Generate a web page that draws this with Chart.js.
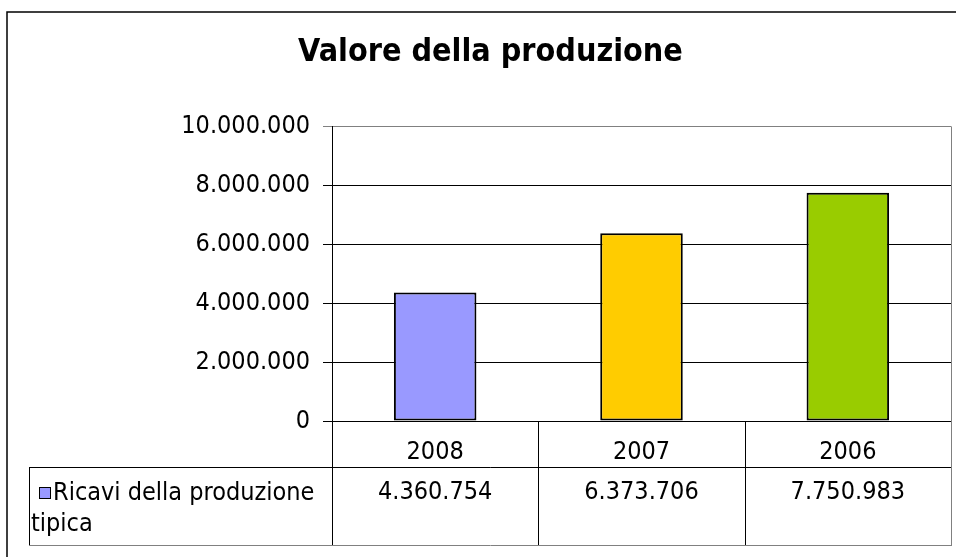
<!DOCTYPE html>
<html>
<head>
<meta charset="utf-8">
<script src="https://cdn.jsdelivr.net/npm/chart.js"></script>
<style>
  html, body { margin: 0; padding: 0; background: #fff; }
  #wrap { width: 956px; height: 557px; }
</style>
</head>
<body>
<div id="wrap"><canvas id="chart"></canvas></div>
<script>
  const years = ["2008", "2007", "2006"];
  const ricavi = [4360754, 6373706, 7750983];
  const barColors = ["#9999ff", "#ffcc00", "#99cc00"];
  const seriesLabel = ["Ricavi della produzione", "tipica"];
  const yTicks = [0, 2000000, 4000000, 6000000, 8000000, 10000000];

  const FONT = '"DejaVu Sans Condensed", "DejaVu Sans", sans-serif';

  function fmt(v) {
    return String(Math.round(v)).replace(/\B(?=(\d{3})+(?!\d))/g, ".");
  }

  // frame, plot border and the data table under the axis
  const tablePlugin = {
    id: "tablePlugin",
    afterDraw(chart) {
      const ctx = chart.ctx;
      const area = chart.chartArea;
      const x = chart.scales.x;
      const half = (area.right - area.left) / years.length / 2;
      const row1 = area.bottom + 46;
      const row2 = row1 + 78;
      const tableLeft = 29;

      ctx.save();
      // outer frame
      ctx.strokeStyle = "#000";
      ctx.lineWidth = 1.5;
      ctx.beginPath();
      ctx.moveTo(7, 557);
      ctx.lineTo(7, 12);
      ctx.lineTo(956, 12);
      ctx.stroke();

      ctx.lineWidth = 1;
      // right plot border
      ctx.strokeStyle = "#808080";
      ctx.beginPath();
      ctx.moveTo(area.right + 0.5, area.top);
      ctx.lineTo(area.right + 0.5, row2);
      ctx.stroke();

      // table lines
      ctx.strokeStyle = "#000";
      ctx.beginPath();
      years.forEach((y, i) => {
        const bx = Math.round(x.getPixelForValue(i) + half) + 0.5;
        if (i < years.length - 1) {
          ctx.moveTo(bx, area.bottom);
          ctx.lineTo(bx, row2);
        }
      });
      ctx.moveTo(Math.round(area.left) + 0.5, area.bottom);
      ctx.lineTo(Math.round(area.left) + 0.5, row2);
      ctx.moveTo(tableLeft + 0.5, row1 + 0.5);
      ctx.lineTo(area.right, row1 + 0.5);
      ctx.moveTo(tableLeft + 0.5, row1);
      ctx.lineTo(tableLeft + 0.5, row2);
      ctx.stroke();

      ctx.strokeStyle = "#808080";
      ctx.beginPath();
      ctx.moveTo(tableLeft, row2 + 0.5);
      ctx.lineTo(area.right + 1, row2 + 0.5);
      ctx.stroke();

      // legend key
      ctx.fillStyle = barColors[0];
      ctx.fillRect(39.5, 487.5, 11, 11);
      ctx.strokeStyle = "#000";
      ctx.strokeRect(39.5, 487.5, 11, 11);

      ctx.fillStyle = "#000";
      ctx.font = "25px " + FONT;
      ctx.textBaseline = "middle";
      ctx.textAlign = "left";
      ctx.fillText(seriesLabel[0], 53, row1 + 26);
      ctx.fillText(seriesLabel[1], 31, row1 + 57);

      ctx.textAlign = "center";
      ricavi.forEach((v, i) => {
        ctx.fillText(fmt(v), x.getPixelForValue(i), row1 + 25);
      });
      ctx.restore();
    }
  };

  new Chart(document.getElementById("chart"), {
    type: "bar",
    data: {
      labels: years,
      datasets: [{
        label: seriesLabel.join(" "),
        data: ricavi,
        backgroundColor: barColors,
        borderColor: "#000",
        borderWidth: 2,
        borderSkipped: false,
        categoryPercentage: 1,
        barPercentage: 0.4
      }]
    },
    options: {
      responsive: true,
      maintainAspectRatio: false,
      animation: false,
      layout: { padding: { left: 30, right: 5, top: 0, bottom: 90 } },
      plugins: {
        legend: { display: false },
        tooltip: { enabled: false },
        title: {
          display: true,
          text: "Valore della produzione",
          color: "#000",
          font: { family: FONT, size: 32, weight: "bold" },
          padding: { top: 33, bottom: 55 }
        }
      },
      scales: {
        x: {
          grid: { display: false },
          border: { display: true, color: "#000", width: 1 },
          ticks: { color: "#000", padding: 8, font: { family: FONT, size: 25 } },
          afterFit(scale) { scale.height = 46; }
        },
        y: {
          min: 0,
          max: 10000000,
          afterBuildTicks(scale) { scale.ticks = yTicks.map(v => ({ value: v })); },
          grid: {
            color: c => (c.tick && c.tick.value === 10000000 ? "#808080" : "#000"),
            tickLength: 9,
            lineWidth: 1
          },
          border: { display: true, color: "#000", width: 1 },
          ticks: {
            color: "#000",
            padding: 13,
            font: { family: FONT, size: 25 },
            callback: v => fmt(v)
          },
          afterFit(scale) { scale.width = 302; }
        }
      }
    },
    plugins: [tablePlugin]
  });
</script>
</body>
</html>
